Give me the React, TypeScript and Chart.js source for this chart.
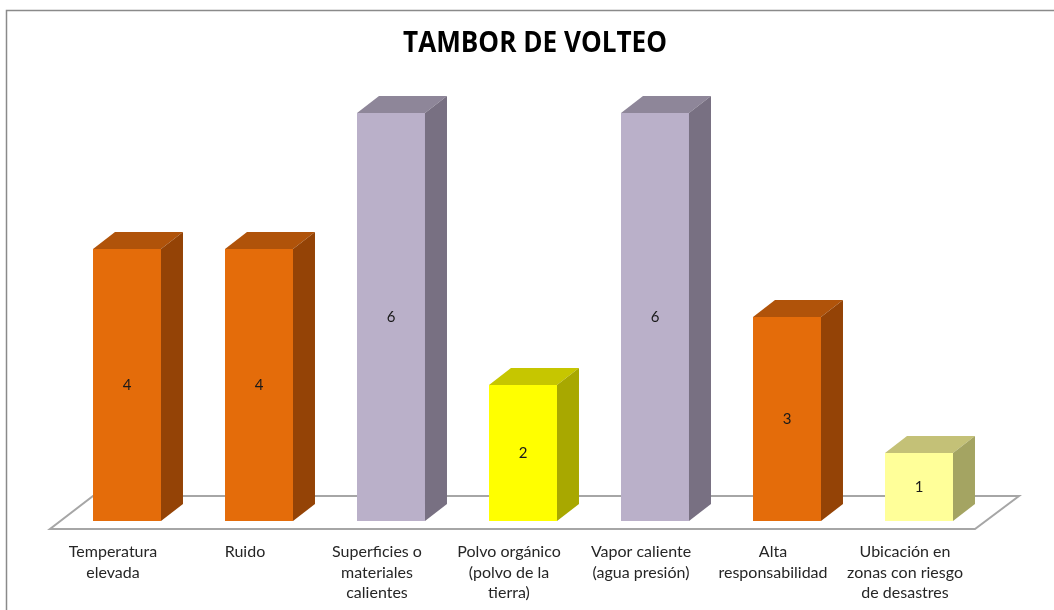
import React, { useEffect, useRef } from "react";
import { Chart, registerables } from "chart.js";

Chart.register(...registerables);

const chartTitle = "TAMBOR DE VOLTEO";
const categories: string[][] = [
  ["Temperatura", "elevada"],
  ["Ruido"],
  ["Superficies o", "materiales", "calientes"],
  ["Polvo orgánico", "(polvo de la", "tierra)"],
  ["Vapor caliente", "(agua presión)"],
  ["Alta", "responsabilidad"],
  ["Ubicación en", "zonas con riesgo", "de desastres"],
];
const values = [4, 4, 6, 2, 6, 3, 1];

const frontColors = ["#E46C0A", "#E46C0A", "#BAB0C9", "#FFFF00", "#BAB0C9", "#E46C0A", "#FFFF99"];
const topColors = ["#B0530A", "#B0530A", "#8E8699", "#C6C600", "#8E8699", "#B0530A", "#C4C177"];
const sideColors = ["#944306", "#944306", "#787082", "#A8A800", "#787082", "#944306", "#A4A462"];

const DEPTH_X = 22;
const DEPTH_Y = 17;
const TITLE_WIDTH = 264;

const bar3dPlugin = {
  id: "bar3d",
  beforeDraw(chart: any) {
    const ctx = chart.ctx as CanvasRenderingContext2D;
    ctx.save();
    ctx.fillStyle = "#ffffff";
    ctx.fillRect(0, 0, chart.width, chart.height);
    ctx.strokeStyle = "#8a8a8a";
    ctx.lineWidth = 1.5;
    ctx.strokeRect(6.5, 10.5, chart.width + 20, chart.height + 20);
    ctx.fillStyle = "#000000";
    ctx.font = "bold 29px 'Open Sans', sans-serif";
    ctx.textAlign = "center";
    ctx.textBaseline = "middle";
    const w = ctx.measureText(chartTitle).width;
    const sx = Math.min(1, TITLE_WIDTH / w);
    ctx.translate(535, 44);
    ctx.scale(sx, 1);
    ctx.fillText(chartTitle, 0, 0);
    ctx.restore();
  },
  beforeDatasetsDraw(chart: any) {
    const ctx = chart.ctx as CanvasRenderingContext2D;
    const { left, right, bottom } = chart.chartArea;
    ctx.save();
    ctx.strokeStyle = "#a6a6a6";
    ctx.lineWidth = 2;
    ctx.beginPath();
    ctx.moveTo(left - 11, bottom + 8);
    ctx.lineTo(right - 10, bottom + 8);
    ctx.lineTo(right + 34, bottom - 25);
    ctx.lineTo(left + 32, bottom - 25);
    ctx.closePath();
    ctx.stroke();
    ctx.restore();
  },
  afterDatasetsDraw(chart: any) {
    const ctx = chart.ctx as CanvasRenderingContext2D;
    const meta = chart.getDatasetMeta(0);
    ctx.save();
    meta.data.forEach((bar: any, i: number) => {
      const { x, y, base, width } = bar.getProps(["x", "y", "base", "width"], true);
      const l = x - width / 2;
      const r = x + width / 2;
      ctx.fillStyle = topColors[i];
      ctx.beginPath();
      ctx.moveTo(l, y);
      ctx.lineTo(l + DEPTH_X, y - DEPTH_Y);
      ctx.lineTo(r + DEPTH_X, y - DEPTH_Y);
      ctx.lineTo(r, y);
      ctx.closePath();
      ctx.fill();
      ctx.fillStyle = sideColors[i];
      ctx.beginPath();
      ctx.moveTo(r, y);
      ctx.lineTo(r + DEPTH_X, y - DEPTH_Y);
      ctx.lineTo(r + DEPTH_X, base - DEPTH_Y);
      ctx.lineTo(r, base);
      ctx.closePath();
      ctx.fill();
      ctx.fillStyle = "#1a1a1a";
      ctx.font = "15px Lato, 'Open Sans', sans-serif";
      ctx.textAlign = "center";
      ctx.textBaseline = "middle";
      ctx.fillText(String(values[i]), x, (y + base) / 2);
    });
    ctx.restore();
  },
};

export default function App() {
  const canvasRef = useRef<HTMLCanvasElement | null>(null);

  useEffect(() => {
    if (!canvasRef.current) return;
    const chart = new Chart(canvasRef.current, {
      type: "bar",
      data: {
        labels: categories,
        datasets: [
          {
            data: values,
            backgroundColor: frontColors,
            borderWidth: 0,
            categoryPercentage: 1,
            barPercentage: 0.515,
          },
        ],
      },
      options: {
        animation: false,
        responsive: true,
        maintainAspectRatio: false,
        layout: { padding: { left: 61, right: 69, top: 113, bottom: 0 } },
        plugins: {
          legend: { display: false },
          title: { display: false },
          tooltip: { enabled: false },
        },
        scales: {
          x: {
            offset: true,
            grid: { display: false },
            border: { display: false },
            ticks: {
              autoSkip: false,
              maxRotation: 0,
              minRotation: 0,
              padding: 13,
              labelOffset: -14,
              color: "#262626",
              font: { family: "Lato, 'Open Sans', sans-serif", size: 16, lineHeight: 1.28 },
            },
            afterFit: (scale: any) => {
              scale.height = 89;
            },
          },
          y: { display: false, min: 0, max: 6 },
        },
      },
      plugins: [bar3dPlugin],
    });
    return () => chart.destroy();
  }, []);

  return (
    <div style={{ position: "fixed", left: 0, top: 0, width: 1054, height: 610 }}>
      <canvas ref={canvasRef} />
    </div>
  );
}
